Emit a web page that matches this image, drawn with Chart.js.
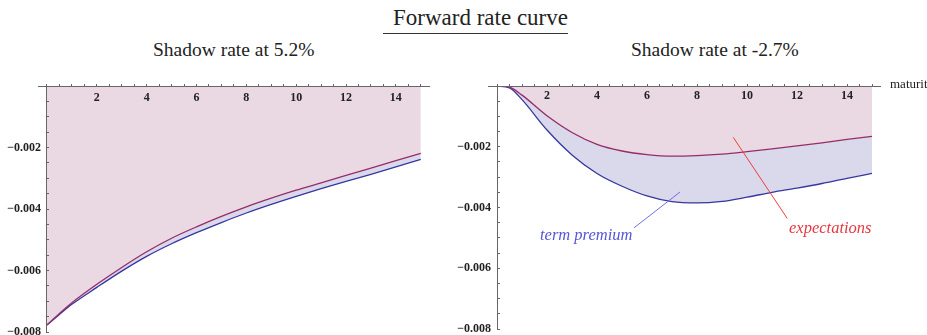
<!DOCTYPE html>
<html>
<head>
<meta charset="utf-8">
<script src="https://cdn.jsdelivr.net/npm/chart.js@4"></script>
<style>
body { margin: 0; background: #fff; overflow: hidden; }
#page { position: relative; width: 927px; height: 335px; overflow: hidden; font-family: "Liberation Serif", serif; color: #222; }
.t { position: absolute; white-space: nowrap; line-height: 1; }
canvas { position: absolute; top: 60px; }
</style>
</head>
<body>
<div id="page">
  <div class="t" style="left:383px;top:6px;font-size:23px"><span style="display:inline-block;padding-left:10px;padding-bottom:4px;border-bottom:1px solid #333">Forward rate curve</span></div>
  <div class="t" style="left:153px;top:40px;font-size:19.5px">Shadow rate at 5.2%</div>
  <div class="t" style="left:631px;top:40px;font-size:19.5px">Shadow rate at -2.7%</div>
  <canvas id="left" width="464" height="290" style="left:0"></canvas>
  <canvas id="right" width="487" height="290" style="left:440px"></canvas>
</div>
<script>
// maturity in years
var maturity = [0, 0.5, 1, 2, 3, 4, 5, 6, 7, 8, 9, 10, 11, 12, 13, 14, 15];

// shadow rate at 5.2%
var expectHigh  = [-0.00777, -0.00740, -0.00705, -0.00645, -0.00590, -0.00539, -0.00495, -0.00458, -0.00424, -0.00393, -0.00365, -0.00339, -0.00315, -0.00291, -0.00267, -0.00243, -0.00219];
var forwardHigh = [-0.00777, -0.00743, -0.00710, -0.00655, -0.00602, -0.00554, -0.00513, -0.00477, -0.00444, -0.00413, -0.00385, -0.00359, -0.00334, -0.00310, -0.00287, -0.00263, -0.00239];

// shadow rate at -2.7%
var expectLow  = [0, -0.00004, -0.00030, -0.00098, -0.00153, -0.00192, -0.00214, -0.00226, -0.00231, -0.00229, -0.00224, -0.00216, -0.00207, -0.00197, -0.00187, -0.00176, -0.00166];
var forwardLow = [0, -0.00006, -0.00045, -0.00145, -0.00227, -0.00288, -0.00330, -0.00362, -0.00381, -0.00385, -0.00380, -0.00366, -0.00350, -0.00336, -0.00321, -0.00304, -0.00288];

var xTickLabels = [2, 4, 6, 8, 10, 12, 14];
var yTickValues = [-0.002, -0.004, -0.006, -0.008];
var yTickLabels = ['\u22120.002', '\u22120.004', '\u22120.006', '\u22120.008'];

var pink = 'rgb(234,216,227)';
var lavender = 'rgb(217,217,235)';
var redLine = 'rgb(150,45,105)';
var blueLine = 'rgb(55,55,160)';
var tickFont = { family: 'Liberation Serif', size: 12, weight: 'bold' };

function pts(ys) {
    return maturity.map(function (m, i) { return { x: m, y: ys[i] }; });
}

// labels and leader lines, placed in data coordinates
var notesPlugin = {
    id: 'notes',
    afterDatasetsDraw: function (chart, args, opts) {
        var ctx = chart.ctx, sx = chart.scales.x, sy = chart.scales.y;
        ctx.save();
        (opts.items || []).forEach(function (n) {
            if (n.line) {
                ctx.strokeStyle = n.lineColor || n.color;
                ctx.lineWidth = 1;
                ctx.beginPath();
                ctx.moveTo(sx.getPixelForValue(n.line[0]), sy.getPixelForValue(n.line[1]));
                ctx.lineTo(sx.getPixelForValue(n.line[2]), sy.getPixelForValue(n.line[3]));
                ctx.stroke();
            }
            ctx.fillStyle = n.color;
            ctx.font = n.font;
            ctx.textAlign = 'left';
            ctx.textBaseline = 'alphabetic';
            ctx.fillText(n.text, sx.getPixelForValue(n.x), sy.getPixelForValue(n.y));
        });
        ctx.restore();
    }
};

function makeChart(id, expect, forward, labelPad, padding, notes) {
    new Chart(document.getElementById(id), {
        type: 'line',
        data: {
            datasets: [{
                label: 'expectations',
                data: pts(expect),
                borderColor: redLine,
                backgroundColor: pink,
                borderWidth: 1.3,
                pointRadius: 0,
                cubicInterpolationMode: 'monotone',
                fill: 'origin'
            },
            {
                label: 'forward rate',
                data: pts(forward),
                borderColor: blueLine,
                backgroundColor: lavender,
                borderWidth: 1.3,
                pointRadius: 0,
                cubicInterpolationMode: 'monotone',
                fill: '-1'
            }]
        },
        options: {
            responsive: false,
            animation: false,
            devicePixelRatio: 1,
            layout: { padding: padding },
            plugins: {
                legend: { display: false },
                tooltip: { enabled: false },
                filler: { drawTime: 'beforeDatasetsDraw' },
                notes: { items: notes }
            },
            scales: {
                x: {
                    type: 'linear',
                    min: -0.35,
                    max: 15.35,
                    position: { y: 0 },
                    border: { color: '#666', width: 1, z: 1 },
                    grid: { drawOnChartArea: false, drawTicks: true, tickLength: -3, tickColor: '#666', z: 1 },
                    ticks: {
                        z: 1,
                        stepSize: 0.5,
                        includeBounds: false,
                        autoSkip: false,
                        maxTicksLimit: 100,
                        maxRotation: 0,
                        padding: labelPad,
                        color: '#222',
                        font: tickFont,
                        callback: function (v) { return xTickLabels.indexOf(v) >= 0 ? String(v) : ''; }
                    }
                },
                y: {
                    type: 'linear',
                    min: -0.008,
                    max: 0,
                    position: { x: 0 },
                    border: { color: '#666', width: 1, z: 1 },
                    grid: { drawOnChartArea: false, drawTicks: true, tickLength: -3, tickColor: '#666', z: 1 },
                    ticks: {
                        z: 1,
                        stepSize: 0.0005,
                        includeBounds: false,
                        autoSkip: false,
                        maxTicksLimit: 100,
                        color: '#222',
                        font: tickFont,
                        callback: function (v) {
                            for (var i = 0; i < yTickValues.length; i++) {
                                if (Math.abs(yTickValues[i] - v) < 1e-7) return yTickLabels[i] + '  ';
                            }
                            return '';
                        }
                    }
                }
            }
        },
        plugins: [notesPlugin]
    });
}

makeChart('left', expectHigh, forwardHigh, 8,
    { left: 38.25, right: 34.5, top: 26, bottom: 18 }, []);

makeChart('right', expectLow, forwardLow, 6,
    { left: 48.25, right: 46.25, top: 26, bottom: 21 }, [
    { text: 'term premium', x: 1.72, y: -0.00507, color: 'rgb(85,85,215)', lineColor: 'rgb(110,110,230)',
      font: 'italic 16.5px "Liberation Serif"', line: [5.48, -0.00467, 7.32, -0.00349] },
    { text: 'expectations', x: 11.68, y: -0.00484, color: 'rgb(230,55,65)', lineColor: 'rgb(240,60,60)',
      font: 'italic 16.5px "Liberation Serif"', line: [9.45, -0.00169, 11.61, -0.00436] },
    { text: 'maturity', x: 15.72, y: -0.00008, color: '#222', font: '13px "Liberation Serif"' }
]);
</script>
</body>
</html>
